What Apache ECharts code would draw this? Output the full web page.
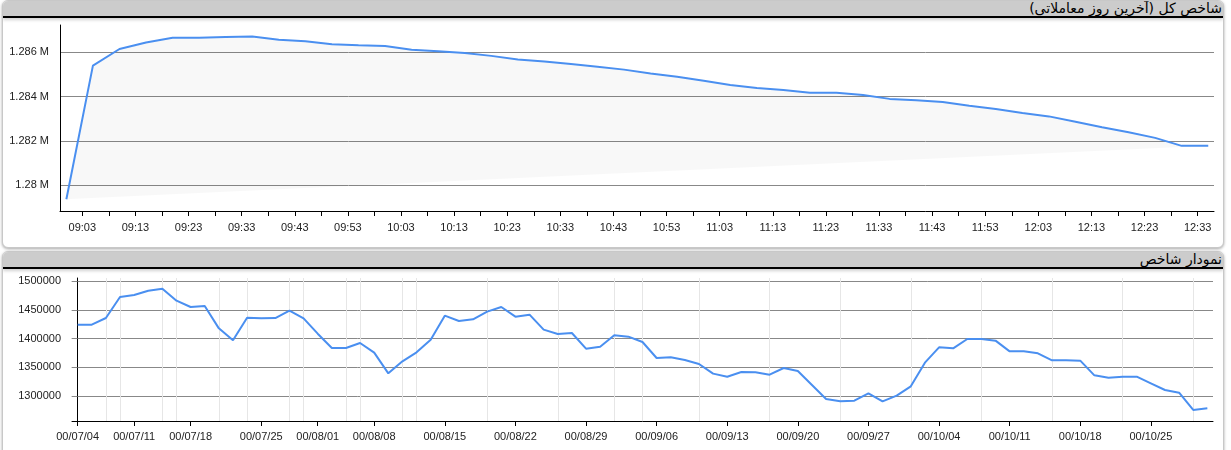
<!DOCTYPE html>
<html><head><meta charset="utf-8">
<script src="https://cdn.jsdelivr.net/npm/echarts@6/dist/echarts.min.js"></script>
<style>
html,body{margin:0;padding:0;background:#fff;width:1231px;height:450px;overflow:hidden;}
.panel{position:absolute;left:2px;width:1220px;background:#fff;border:1px solid #c8c8c8;border-radius:6px;box-shadow:0 1px 3px rgba(0,0,0,0.35);overflow:hidden;}
.hdr{position:absolute;left:0;top:0;right:0;height:15px;background:#cccccc;border-bottom:2px solid #000;box-shadow:0 2px 3px rgba(0,0,0,0.18);}
.ttl{position:absolute;right:1px;top:-1px;direction:rtl;font-family:Tahoma,"DejaVu Sans",sans-serif;font-size:14px;line-height:17px;color:#000;white-space:nowrap;}
#chart{position:absolute;left:0;top:0;width:1231px;height:450px;}
</style></head>
<body>
<div class="panel" style="top:0;height:246px"><div class="hdr"><span class="ttl">شاخص کل (آخرین روز معاملاتی)</span></div></div>
<div class="panel" style="top:251px;height:215px"><div class="hdr"><span class="ttl">نمودار شاخص</span></div></div>
<div id="chart"></div>
<script>
// ---------- Intraday (top) ----------
const intradayTimes = ['09:00','09:05','09:10','09:15','09:20','09:25','09:30','09:35','09:40','09:45',
  '09:50','09:55','10:00','10:05','10:10','10:15','10:20','10:25','10:30','10:35','10:40','10:45',
  '10:50','10:55','11:00','11:05','11:10','11:15','11:20','11:25','11:30','11:35','11:40','11:45',
  '11:50','11:55','12:00','12:05','12:10','12:15','12:20','12:25','12:30','12:35'];
const intradayValues = [1279370,1285400,1286150,1286440,1286660,1286660,1286690,1286710,1286570,1286500,
  1286360,1286320,1286290,1286120,1286050,1285970,1285840,1285680,1285590,1285470,1285350,1285220,
  1285050,1284900,1284720,1284530,1284390,1284300,1284180,1284180,1284080,1283900,1283840,1283760,
  1283590,1283440,1283260,1283110,1282870,1282620,1282390,1282140,1281780,1281780];
const intradayTickTimes = ['09:03','09:08','09:13','09:18','09:23','09:28','09:33','09:38','09:43','09:48',
  '09:53','09:58','10:03','10:08','10:13','10:18','10:23','10:28','10:33','10:38','10:43','10:48',
  '10:53','10:58','11:03','11:08','11:13','11:18','11:23','11:28','11:33','11:38','11:43','11:48',
  '11:53','11:58','12:03','12:08','12:13','12:18','12:23','12:28','12:33'];
const intradayLabelTimes = ['09:03','09:13','09:23','09:33','09:43','09:53','10:03','10:13','10:23','10:33',
  '10:43','10:53','11:03','11:13','11:23','11:33','11:43','11:53','12:03','12:13','12:23','12:33'];
const intradayYTicks = [1280000,1282000,1284000,1286000];

// ---------- Daily (bottom) ----------
const dailyDates = ['00/07/04','00/07/05','00/07/07','00/07/10','00/07/11','00/07/12','00/07/13','00/07/17',
  '00/07/18','00/07/19','00/07/20','00/07/21','00/07/24','00/07/25','00/07/26','00/07/27','00/07/28',
  '00/08/01','00/08/03','00/08/04','00/08/05','00/08/08','00/08/09','00/08/10','00/08/11','00/08/12',
  '00/08/15','00/08/16','00/08/17','00/08/18','00/08/19','00/08/22','00/08/23','00/08/24','00/08/25',
  '00/08/26','00/08/29','00/08/30','00/09/01','00/09/02','00/09/03','00/09/06','00/09/07','00/09/08',
  '00/09/09','00/09/10','00/09/13','00/09/14','00/09/15','00/09/16','00/09/17','00/09/20','00/09/21',
  '00/09/22','00/09/23','00/09/24','00/09/27','00/09/28','00/09/29','00/09/30','00/10/01','00/10/04',
  '00/10/05','00/10/06','00/10/07','00/10/08','00/10/11','00/10/12','00/10/13','00/10/14','00/10/15',
  '00/10/18','00/10/19','00/10/20','00/10/21','00/10/22','00/10/25','00/10/26','00/10/27','00/10/28','00/10/29'];
const dailyValues = [1424400,1424400,1436000,1472700,1476200,1483700,1487200,1466300,1455200,1457000,
  1418000,1397100,1436600,1435500,1436000,1448800,1435500,1408700,1383700,1383700,1392400,
  1375600,1339500,1360500,1376200,1398300,1440100,1430800,1433700,1447100,1455200,1438400,
  1441900,1415700,1408100,1409900,1382600,1386000,1405800,1403500,1394200,
  1366300,1367400,1362800,1355800,1339000,1333700,1341900,1341300,1337200,1348800,1343600,
  1319200,1294800,1290700,1291900,1304700,1290700,1300600,1316900,1358100,1384900,
  1383100,1399400,1399400,1396500,1377900,1377900,1374400,1362200,1362200,1361600,1336000,
  1332000,1333700,1333700,1322100,1310500,1305800,1275600,1278500];
const dailyLabelDates = ['00/07/04','00/07/11','00/07/18','00/07/25','00/08/01','00/08/08','00/08/15',
  '00/08/22','00/08/29','00/09/06','00/09/13','00/09/20','00/09/27','00/10/04','00/10/11','00/10/18','00/10/25'];
const dailyGridDates = ['00/07/07','00/07/10','00/07/13','00/07/17','00/07/20','00/07/24','00/07/27','00/07/28',
  '00/08/04','00/08/05','00/08/10','00/08/11','00/08/18','00/08/25','00/09/01','00/09/03','00/09/09',
  '00/09/16','00/09/23','00/09/30','00/10/07','00/10/14','00/10/21','00/10/28'];
const dailyYTicks = [1300000,1350000,1400000,1450000,1500000];

function toMin(t){const p=t.split(':');return (+p[0])*60+(+p[1]);}
function fmtMin(m){m=Math.round(m);const h=Math.floor(m/60),mm=m%60;return (h<10?'0':'')+h+':'+(mm<10?'0':'')+mm;}
const dIdx = d => dailyDates.indexOf(d);

const font = {fontFamily:'Arial, "Liberation Sans", sans-serif', fontSize:11, color:'#222'};
const blackLine = {show:true, lineStyle:{color:'#000', width:1}};

const chart = echarts.init(document.getElementById('chart'), null, {renderer:'canvas'});
chart.setOption({
  animation:false,
  grid:[{left:60, top:25, width:1154, height:186}, {left:72, top:278, width:1141, height:143}],
  xAxis:[
    {gridIndex:0, type:'value', min:538.8, max:756.08, axisLine:blackLine,
      axisTick:{show:true, length:5, lineStyle:{color:'#000'}, customValues:intradayTickTimes.map(toMin)},
      axisLabel:Object.assign({customValues:intradayLabelTimes.map(toMin), formatter:v=>fmtMin(v), margin:11}, font),
      splitLine:{show:false}},
    {gridIndex:1, type:'value', min:-0.4, max:80.4, axisLine:blackLine,
      axisTick:{show:true, length:5, lineStyle:{color:'#000'}, customValues:dailyLabelDates.map(dIdx)},
      axisLabel:Object.assign({customValues:dailyLabelDates.map(dIdx), formatter:v=>dailyDates[Math.round(v)], margin:10}, font),
      splitLine:{show:false}},
    {gridIndex:1, type:'value', min:-0.4, max:80.4, axisLine:{show:false},
      axisTick:{show:false, customValues:dailyGridDates.map(dIdx)},
      axisLabel:{show:false, customValues:dailyGridDates.map(dIdx)},
      splitLine:{show:true, lineStyle:{color:'#e6e6e6', width:1}}}
  ],
  yAxis:[
    {gridIndex:0, type:'value', min:1278842, max:1287233, axisLine:blackLine,
      axisTick:{show:false, customValues:intradayYTicks},
      axisLabel:Object.assign({customValues:intradayYTicks, formatter:v=>(v/1e6)+' M', margin:11}, font),
      splitLine:{show:true, lineStyle:{color:'#888', width:1}}},
    {gridIndex:1, type:'value', min:1256400, max:1505800, axisLine:blackLine,
      axisTick:{show:true, length:6, lineStyle:{color:'#888'}, customValues:dailyYTicks},
      axisLabel:Object.assign({customValues:dailyYTicks, formatter:v=>String(v), margin:11}, font),
      splitLine:{show:true, lineStyle:{color:'#888', width:1}}}
  ],
  series:[
    {type:'custom', xAxisIndex:0, yAxisIndex:0, silent:true, z:1,
      data:[[toMin(intradayTimes[0]), intradayValues[0]]],
      renderItem:(params, api)=>{
        const pts = intradayTimes.map((t,i)=>api.coord([toMin(t), intradayValues[i]]));
        return {type:'polygon', shape:{points:pts}, style:{fill:'rgba(0,0,0,0.028)', stroke:null}};
      }},
    {type:'line', xAxisIndex:0, yAxisIndex:0, symbol:'none', z:3,
      data:intradayTimes.map((t,i)=>[toMin(t), intradayValues[i]]),
      lineStyle:{color:'#4a8ff0', width:2}},
    {type:'line', xAxisIndex:1, yAxisIndex:1, symbol:'none', z:3,
      data:dailyValues.map((v,i)=>[i, v]),
      lineStyle:{color:'#4a8ff0', width:2}}
  ]
});
</script>
</body></html>
